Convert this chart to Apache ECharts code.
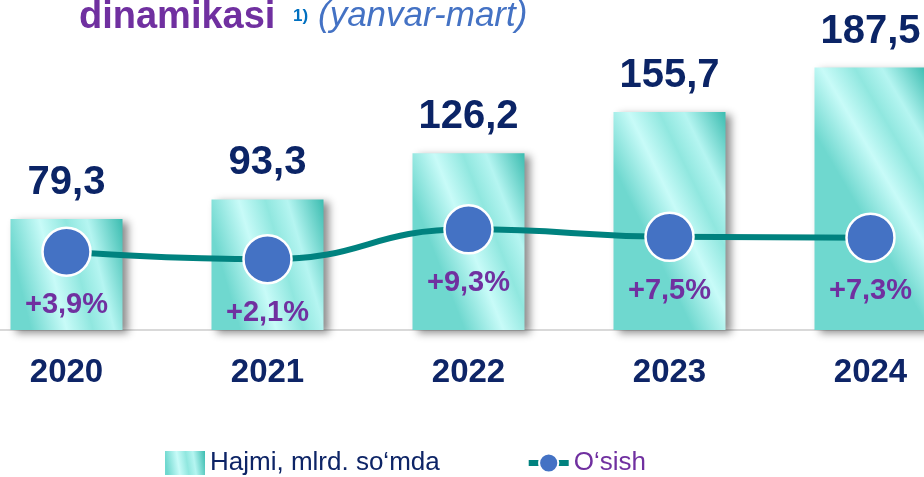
<!DOCTYPE html>
<html>
<head>
<meta charset="utf-8">
<script src="https://cdn.jsdelivr.net/npm/echarts@6/dist/echarts.min.js"></script>
<style>
  html, body { margin: 0; padding: 0; background: #fff; }
  #chart { width: 924px; height: 477px; }
</style>
</head>
<body>
<div id="chart"></div>
<script>
const years = ['2020', '2021', '2022', '2023', '2024'];
const volume = [79.3, 93.3, 126.2, 155.7, 187.5];
const growth = [3.9, 2.1, 9.3, 7.5, 7.3];
const volumeName = 'Hajmi, mlrd. so‘mda';
const growthName = 'O‘sish';

const font = 'Arial, "Liberation Sans", sans-serif';
const comma = v => String(v).replace('.', ',');

// bar fill: diagonal teal / light cyan streaks
const barFill = new echarts.graphic.LinearGradient(0, 0.25, 1, 0, [
    { offset: 0, color: '#6fd8cf' },
    { offset: 0.3, color: '#c8fbf8' },
    { offset: 0.52, color: '#90e7df' },
    { offset: 0.7, color: '#b5f5f1' },
    { offset: 1, color: '#3bbcb0' }
]);

const chart = echarts.init(document.getElementById('chart'));
chart.setOption({
    backgroundColor: '#fff',
    textStyle: { fontFamily: font },
    title: [
        { text: 'dinamikasi', left: 74, top: -6,
          textStyle: { color: '#7030a0', fontSize: 38, fontWeight: 'bold', fontFamily: font } },
        { text: '1)', left: 288, top: 3,
          textStyle: { color: '#0070c0', fontSize: 17, fontWeight: 'bold', fontFamily: font } },
        { text: '(yanvar-mart)', left: 313, top: -6,
          textStyle: { color: '#4472c4', fontSize: 35, fontStyle: 'italic', fontWeight: 'normal', fontFamily: font } }
    ],
    legend: {
        left: 160, top: 445,
        itemWidth: 40, itemHeight: 24, itemGap: 86,
        textStyle: { fontSize: 26, fontFamily: font },
        data: [
            { name: volumeName, icon: 'rect', textStyle: { color: '#0d2466' },
              itemStyle: { shadowBlur: 0, shadowOffsetX: 0, shadowOffsetY: 0 } },
            { name: growthName, textStyle: { color: '#7030a0' }, lineStyle: { width: 6 } }
        ]
    },
    grid: { left: -34, width: 1005, top: 50, height: 280, outerBoundsMode: 'none', containLabel: false },
    xAxis: {
        type: 'category',
        data: years,
        axisTick: { show: false },
        axisLine: { lineStyle: { color: '#d9d9d9', width: 2 } },
        axisLabel: { color: '#0e2567', fontSize: 33, fontWeight: 'bold', margin: 26 }
    },
    yAxis: [
        { type: 'value', min: 0, max: 200, show: false, splitLine: { show: false } },
        { type: 'value', min: -15, max: 52.6, show: false, splitLine: { show: false } }
    ],
    series: [
        {
            name: volumeName,
            type: 'bar',
            data: volume,
            barWidth: 112,
            itemStyle: {
                color: barFill,
                shadowColor: 'rgba(0,0,0,0.45)',
                shadowBlur: 8,
                shadowOffsetX: 5,
                shadowOffsetY: 3
            },
            label: {
                show: true,
                position: 'top',
                distance: 16,
                color: '#0b2466',
                fontSize: 40,
                fontWeight: 'bold',
                formatter: p => comma(p.value)
            }
        },
        {
            name: growthName,
            type: 'line',
            yAxisIndex: 1,
            data: growth,
            smooth: true,
            symbol: 'circle',
            symbolSize: 48,
            z: 5,
            lineStyle: { color: '#00827f', width: 6 },
            itemStyle: { color: '#4472c4', borderColor: '#fff', borderWidth: 2.5 },
            label: {
                show: true,
                position: 'bottom',
                distance: 14,
                color: '#7030a0',
                fontSize: 29,
                fontWeight: 'bold',
                formatter: p => '+' + comma(p.value) + '%'
            }
        }
    ]
});
</script>
</body>
</html>
